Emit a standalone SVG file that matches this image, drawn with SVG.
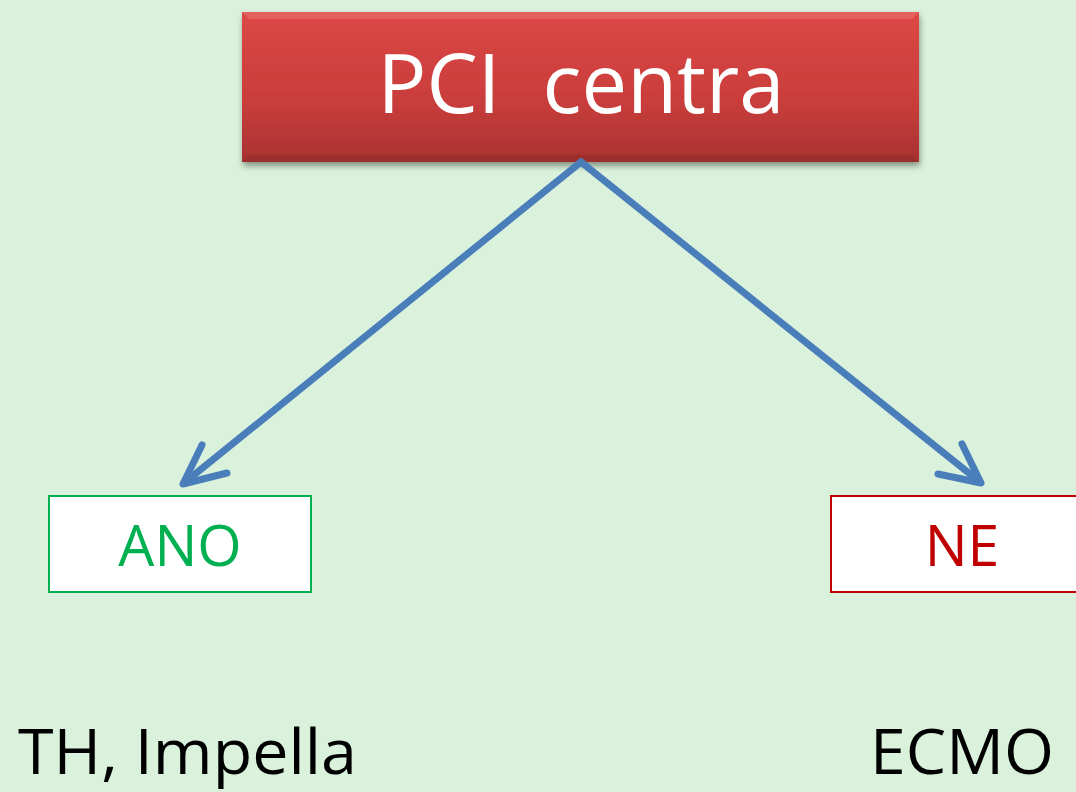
<svg xmlns="http://www.w3.org/2000/svg" width="1076" height="792" viewBox="0 0 1076 792">
<defs>
<linearGradient id="red" x1="0" y1="0" x2="0" y2="1">
<stop offset="0" stop-color="#DC4845"/>
<stop offset="0.6" stop-color="#C93D3B"/>
<stop offset="1" stop-color="#A73231"/>
</linearGradient>
<filter id="sh" x="-5%" y="-10%" width="110%" height="130%">
<feGaussianBlur in="SourceAlpha" stdDeviation="3"/>
<feOffset dx="1" dy="4" result="b"/>
<feComponentTransfer><feFuncA type="linear" slope="0.4"/></feComponentTransfer>
<feMerge><feMergeNode/><feMergeNode in="SourceGraphic"/></feMerge>
</filter>
</defs>
<style>
.t{font-family:"Open Sans","Noto Sans","Liberation Sans",sans-serif;}
.arrow{fill:none;stroke:#4A7EBB;stroke-width:7;stroke-linecap:round;stroke-linejoin:round;}
.box{fill:#FFFFFF;stroke-width:2;}
</style>
<rect width="1076" height="792" fill="#DAF2DC"/>
<g id="pci">
<rect x="242" y="12" width="677" height="150" fill="url(#red)" filter="url(#sh)"/>
<polygon points="242,12 919,12 912,19 249,19" fill="#E8716D" opacity="0.6"/>
<polygon points="242,162 919,162 912,155 249,155" fill="#8E2B2A" opacity="0.5"/>
<text class="t" x="581" y="113" font-size="82" fill="#FFFFFF" text-anchor="middle" textLength="407" lengthAdjust="spacingAndGlyphs" xml:space="preserve">PCI  centra</text>
</g>
<g id="connectors">
<path class="arrow" d="M581,162 L184,483"/>
<path class="arrow" d="M202,445 L183,484 L227,473"/>
<path class="arrow" d="M581,162 L980,482"/>
<path class="arrow" d="M962,444 L981,483 L938,474"/>
</g>
<g id="ano">
<rect class="box" x="49" y="496" width="262" height="96" stroke="#00B050"/>
<text class="t" x="180" y="566" font-size="57" fill="#00B050" text-anchor="middle">ANO</text>
</g>
<g id="ne">
<rect class="box" x="831" y="496" width="250" height="96" stroke="#C00000"/>
<text class="t" x="962" y="566" font-size="57" fill="#C00000" text-anchor="middle">NE</text>
</g>
<g id="th">
<text class="t" x="18" y="774" font-size="62" fill="#000000" textLength="339" lengthAdjust="spacingAndGlyphs">TH, Impella</text>
</g>
<g id="ecmo">
<text class="t" x="870" y="774" font-size="62" fill="#000000" textLength="184" lengthAdjust="spacingAndGlyphs">ECMO</text>
</g>
</svg>
